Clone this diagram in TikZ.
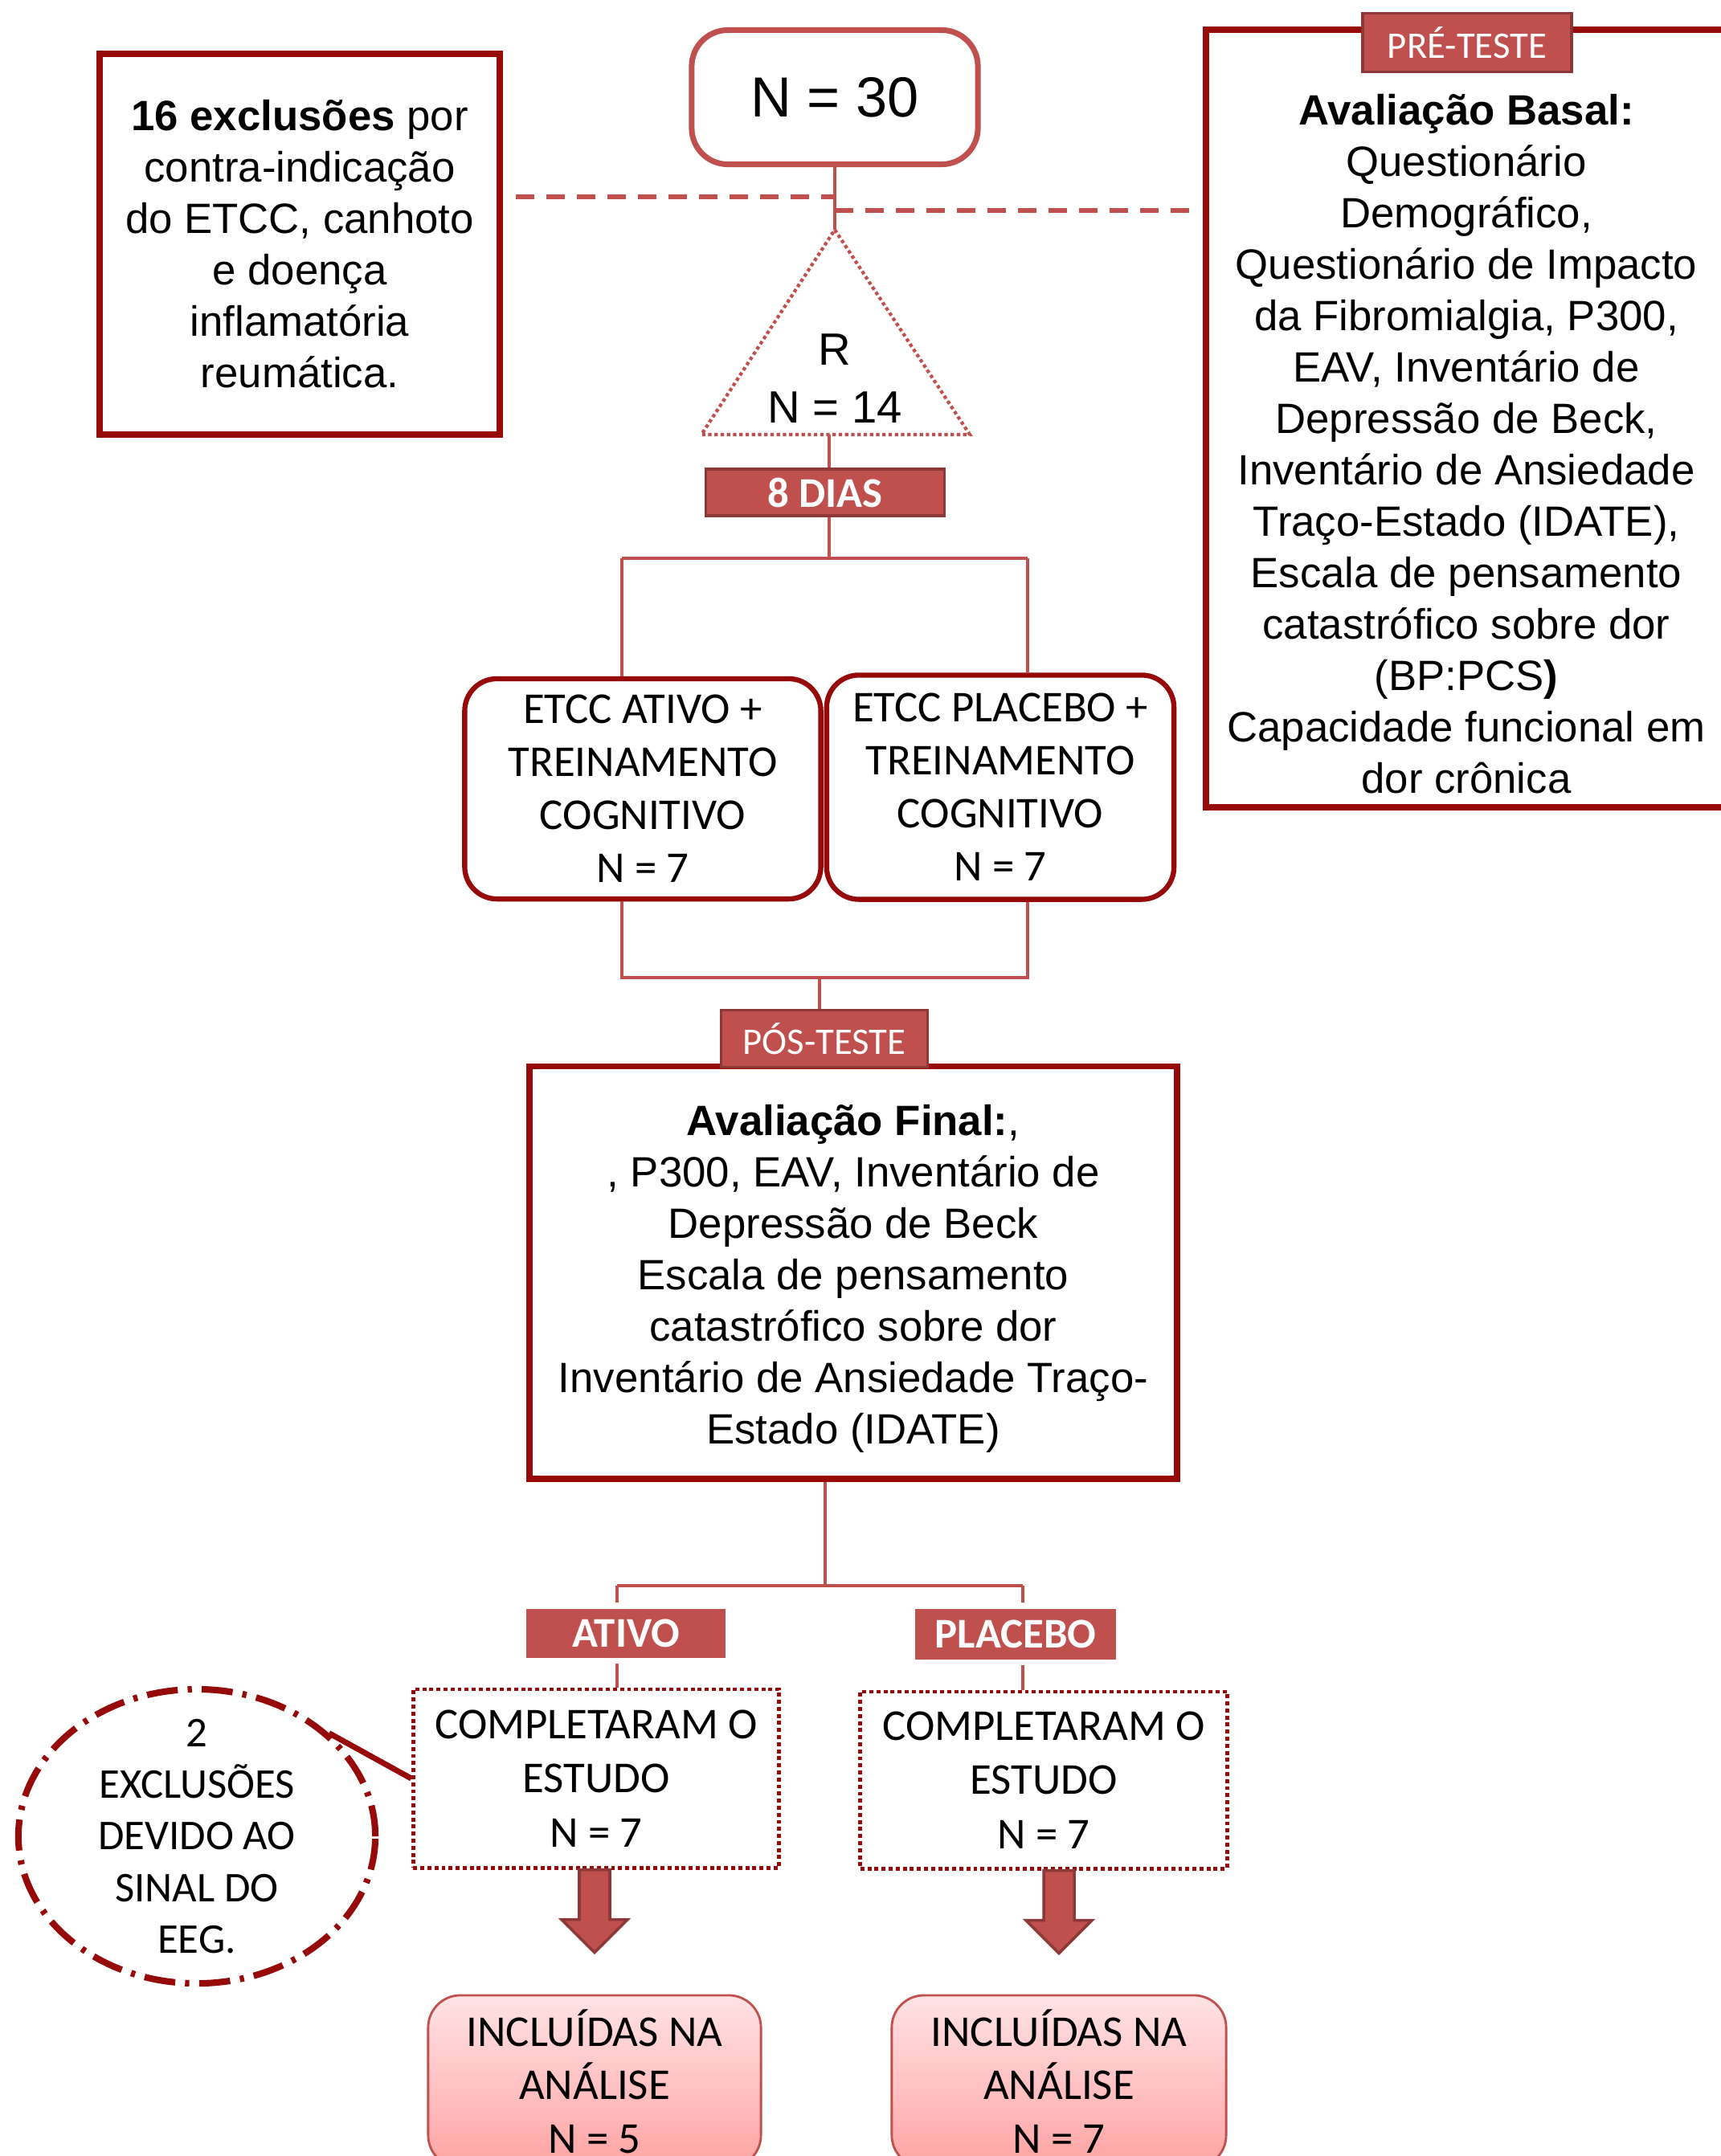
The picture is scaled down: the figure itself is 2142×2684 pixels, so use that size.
\documentclass[tikz,border=0pt]{standalone}
\usepackage{fontspec}
\setmainfont{Liberation Sans}
\newfontfamily\calib{Carlito}
\usepackage{tikz}
\usetikzlibrary{shapes.geometric,shadows}
\definecolor{accred}{HTML}{C0504D}
\definecolor{accdark}{HTML}{8C3836}
\definecolor{boxred}{HTML}{960A0A}
\definecolor{pinktop}{HTML}{FFE3E5}
\definecolor{pinkbot}{HTML}{FFA3A3}
\newcommand{\arialtxt}{\fontsize{15}{18.2}\selectfont}
\newcommand{\calibtxt}{\calib\fontsize{15.6}{18.8}\selectfont}

\begin{document}
\begin{tikzpicture}[x=0.01cm,y=-0.01cm,
  conn/.style={draw=accred,line width=1.3pt},
  dashconn/.style={draw=accred,line width=1.5pt,dash pattern=on 6.5pt off 4.3pt},
  bigbox/.style={draw=boxred,line width=2.2pt,fill=white,inner sep=0pt,align=center,font=\arialtxt},
  roundbox/.style={draw=boxred,line width=1.8pt,rounded corners=0.4cm,fill=white,inner sep=0pt,align=center,font=\calibtxt},
  dotbox/.style={draw=boxred,line width=1.4pt,dash pattern=on 1.4pt off 1.1pt,fill=white,inner sep=0pt,align=center,font=\calib\fontsize{15.6}{19.2}\selectfont},
  tag/.style={fill=accred,draw=accdark,line width=1pt,text=white,inner sep=0pt},
  armtag/.style={fill=accred,draw=white,line width=2pt,text=white,inner sep=0pt,font=\calib\bfseries\fontsize{15}{18}\selectfont,drop shadow={shadow xshift=0.6pt,shadow yshift=-1pt,fill=black!35}},
  inclbox/.style={draw=accred,line width=0.8pt,rounded corners=0.4cm,top color=pinktop,bottom color=pinkbot,inner sep=0pt,align=center,font=\calib\fontsize{15.6}{18.9}\selectfont},
  blockarrow/.style={fill=accred,draw=accdark,line width=1pt,line join=miter}
]
\fill[white] (0,0) rectangle (2142,2684);
\clip (0,0) rectangle (2142,2684);

\node (excl) [bigbox,minimum width=4.97cm,minimum height=4.74cm] at (373,304)
  {\textbf{16 exclusões} por\\contra-indicação\\do ETCC, canhoto\\e doença\\inflamatória\\reumática.};

\node (n30) [draw=accred,line width=2pt,rounded corners=0.45cm,minimum width=3.56cm,minimum height=1.67cm,
  font=\fontsize{20}{24}\selectfont] at (1039,121) {N = 30};

\node (preBox) [bigbox,minimum width=6.48cm,minimum height=9.68cm] at (1825,521) {};
\node (preTxt) [align=center,font=\arialtxt] at (1825,553)
  {\textbf{Avaliação Basal:}\\Questionário\\Demográfico,\\Questionário de Impacto\\da Fibromialgia, P300,\\EAV, Inventário de\\Depressão de Beck,\\Inventário de Ansiedade\\Traço-Estado (IDATE),\\Escala de pensamento\\catastrófico sobre dor\\(BP:PCS\textbf{)}\\Capacidade funcional em\\dor crônica};
\node (pre) [tag,minimum width=2.6cm,minimum height=0.73cm,font=\calib\fontsize{13.3}{16}\selectfont] at (1826,53) {PRÉ-TESTE};

\coordinate (dashL) at (642,245);
\coordinate (dashR) at (1486,262);
\draw[dashconn] (dashL) -- (dashL -| n30.south);
\draw[dashconn] (n30.south |- dashR) -- (dashR);

\coordinate (triTop) at (1039,286);
\coordinate (triL) at (873,541);
\coordinate (triR) at (1207,541);
\coordinate (triB) at (1032,541);
\draw[conn] (n30.south) -- (triTop);
\draw[draw=accred,line width=1.2pt,dash pattern=on 1.2pt off 1pt] (triTop) -- (triR) -- (triL) -- cycle;
\node (rand) [align=center,font=\fontsize{16}{20.5}\selectfont] at (1039,471) {R\\N = 14};

\node (dias) [tag,minimum width=2.97cm,minimum height=0.58cm,font=\calib\bfseries\fontsize{15}{18}\selectfont] at (1027,613) {8 DIAS};
\draw[conn] (triB) -- (triB |- dias.north);

\coordinate (splitA) at (774,695);
\coordinate (splitP) at (1279,695);
\node (etccA) [roundbox,minimum width=4.43cm,minimum height=2.74cm] at (800,982) {ETCC ATIVO +\\TREINAMENTO\\COGNITIVO\\N = 7};
\node (etccP) [roundbox,minimum width=4.32cm,minimum height=2.79cm] at (1245,980) {ETCC PLACEBO +\\TREINAMENTO\\COGNITIVO\\N = 7};
\draw[conn] (triB |- dias.south) -- (triB |- splitA);
\draw[conn] (splitA) -- (splitP);
\draw[conn] (splitA) -- (splitA |- etccA.north);
\draw[conn] (splitP) -- (splitP |- etccP.north);

\coordinate (joinA) at (774,1217);
\coordinate (joinP) at (1279,1217);
\coordinate (joinM) at (1020,1217);
\draw[conn] (joinA |- etccA.south) -- (joinA) -- (joinP) -- (joinP |- etccP.south);

\node (final) [bigbox,minimum width=8.06cm,minimum height=5.13cm] at (1062,1584)
  {\rule{0pt}{15.5pt}\textbf{Avaliação Final:},\\, P300, EAV, Inventário de\\Depressão de Beck\\Escala de pensamento\\catastrófico sobre dor\\Inventário de Ansiedade Traço-\\Estado (IDATE)};
\node (post) [tag,minimum width=2.57cm,minimum height=0.71cm,font=\calib\fontsize{13.3}{16}\selectfont] at (1026,1293) {PÓS-TESTE};
\draw[conn] (joinM) -- (joinM |- post.north);

\coordinate (split2A) at (768,1974);
\coordinate (split2P) at (1273,1974);
\coordinate (split2M) at (1027,1974);
\draw[conn] (split2M |- final.south) -- (split2M);
\draw[conn] (split2A) -- (split2P);

\node (ativo) [armtag,minimum width=2.55cm,minimum height=0.68cm] at (779,2033) {ATIVO};
\node (placebo) [armtag,minimum width=2.56cm,minimum height=0.70cm] at (1264,2034) {PLACEBO};
\draw[conn] (split2A) -- (split2A |- ativo.north);
\draw[conn] (split2P) -- (split2P |- placebo.north);

\node (compA) [dotbox,minimum width=4.55cm,minimum height=2.22cm] at (742,2214) {COMPLETARAM O\\ESTUDO\\N = 7};
\node (compP) [dotbox,minimum width=4.56cm,minimum height=2.2cm] at (1299,2216) {COMPLETARAM O\\ESTUDO\\N = 7};
\draw[conn] (split2A |- ativo.south) -- (split2A |- compA.north);
\draw[conn] (split2P |- placebo.south) -- (split2P |- compP.north);

\node (inclA) [inclbox,minimum width=4.14cm,minimum height=2.14cm] at (740,2591) {INCLUÍDAS NA\\ANÁLISE\\N = 5};
\node (inclP) [inclbox,minimum width=4.16cm,minimum height=2.14cm] at (1318,2591) {INCLUÍDAS NA\\ANÁLISE\\N = 7};

\draw[blockarrow] (compA.south -| inclA.north) ++(-19,0) -- ++(0,62) -- ++(-22,0) -- ++(41,41) -- ++(41,-41) -- ++(-22,0) -- ++(0,-62) -- cycle;
\draw[blockarrow] (compP.south -| inclP.north) ++(-19,0) -- ++(0,62) -- ++(-22,0) -- ++(41,41) -- ++(41,-41) -- ++(-22,0) -- ++(0,-62) -- cycle;

\node (exclOval) [ellipse,draw=boxred,line width=2.3pt,dash pattern=on 11pt off 3.5pt on 1.5pt off 3.5pt,
  minimum width=4.44cm,minimum height=3.66cm] at (245,2286) {};
\node (exclTxt) [align=center,font=\calib\fontsize{15}{18.3}\selectfont] at (exclOval.center) {2\\EXCLUSÕES\\DEVIDO AO\\SINAL DO\\EEG.};
\draw[draw=boxred,line width=2pt] (exclOval.38) -- (compA.west);

\end{tikzpicture}
\end{document}
